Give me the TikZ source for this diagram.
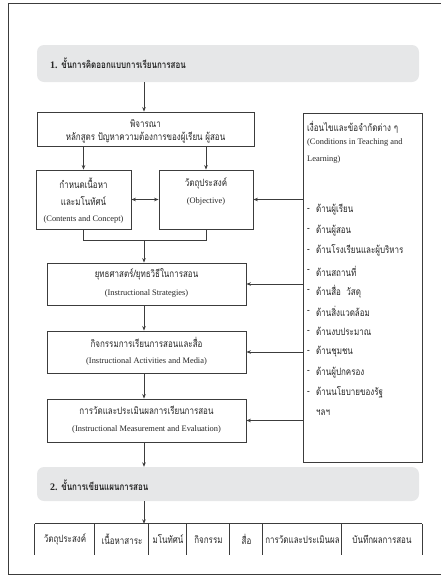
\documentclass[tikz,border=0pt]{standalone}
\usepackage{fontspec}
\setmainfont{Liberation Serif}
\newfontfamily\thaifont[Script=Thai,FakeStretch=0.8]{Loma}
\newfontfamily\enfont{Liberation Serif}
\usetikzlibrary{arrows.meta}
\definecolor{linec}{HTML}{3C3C3C}
\definecolor{textc}{HTML}{262626}
\definecolor{bandc}{HTML}{E6E7E8}
\tikzset{
  frbox/.style={draw=linec, line width=0.9pt, fill=white, inner sep=0pt},
  band/.style={fill=bandc, draw=none, rounded corners=7pt, inner sep=0pt},
  th/.style={font=\thaifont\fontsize{10}{12}\selectfont, text=textc, inner sep=0pt},
  thb/.style={font=\thaifont\bfseries\fontsize{10}{12}\selectfont, text=textc, inner sep=0pt},
  en/.style={font=\enfont\fontsize{8.4}{10}\selectfont, text=textc, inner sep=0pt},
  conn/.style={draw=linec, line width=0.8pt},
  arr/.style={conn, -{Stealth[length=4.5pt,width=3.6pt]}},
  darr/.style={conn, {Stealth[length=4.5pt,width=3.6pt]}-{Stealth[length=4.5pt,width=3.6pt]}},
  cell/.style={inner sep=0pt, minimum height=31pt, text=textc, font=\thaifont\fontsize{10}{12}\selectfont},
}
\begin{document}
\begin{tikzpicture}[x=1pt,y=-1pt]
\useasboundingbox (0,0) rectangle (440,576);
% outer frame
\draw[draw=linec, line width=0.8pt] (460,3) -- (8,3) -- (8,574.5) -- (460,574.5);

% stage 1 band
\node[band, minimum width=382pt, minimum height=37pt] (band1) at (228,63.5) {};
\node[thb, anchor=west] (band1t) at (50,63) {{\enfont\bfseries 1.} ขั้นการคิดออกแบบการเรียนการสอน};

% consider box
\node[frbox, minimum width=217pt, minimum height=34pt] (consider) at (145.5,129) {};
\node[th] (consider1) at (145.5,123.5) {พิจารณา};
\node[th] (consider2) at (145.5,137.5) {หลักสูตร ปัญหาความต้องการของผู้เรียน ผู้สอน};

% content and objective
\node[frbox, minimum width=95pt, minimum height=59pt] (content) at (83.5,199.5) {};
\node[th] (content1) at (83.5,183) {กำหนดเนื้อหา};
\node[th] (content2) at (83.5,201) {และมโนทัศน์};
\node[en] (content3) at (83.5,219) {(Contents and Concept)};

\node[frbox, minimum width=94pt, minimum height=59pt] (objective) at (206,199.5) {};
\node[th] (objective1) at (206,183) {วัตถุประสงค์};
\node[en] (objective2) at (206,201) {(Objective)};

% conditions box
\node[frbox, minimum width=119pt, minimum height=349pt] (cond) at (362.5,287.5) {};
\node[th, anchor=west] (cond1) at (307,127) {เงื่อนไขและข้อจำกัดต่าง ๆ};
\node[en, anchor=west] (cond2) at (307,142.5) {(Conditions in Teaching and};
\node[en, anchor=west] (cond3) at (307,159) {Learning)};
\foreach \t [count=\i from 0] in {ด้านผู้เรียน,ด้านผู้สอน,ด้านโรงเรียนและผู้บริหาร,ด้านสถานที่,ด้านสื่อ\ \ วัสดุ,ด้านสิ่งแวดล้อม,ด้านงบประมาณ,ด้านชุมชน,ด้านผู้ปกครอง,ด้านนโยบายของรัฐ}{
  \node[th, anchor=west] (dash\i) at (307,210+20.3*\i) {-};
  \node[th, anchor=west] (item\i) at (316,210+20.3*\i) {\t};
}
\node[th, anchor=west] (itemetc) at (316,413) {ฯลฯ};

% strategies, activities, evaluation
\node[frbox, minimum width=199pt, minimum height=42pt] (strat) at (146.5,284) {};
\node[th] (strat1) at (146.5,274.5) {ยุทธศาสตร์/ยุทธวิธีในการสอน};
\node[en] (strat2) at (146.5,293.5) {(Instructional Strategies)};

\node[frbox, minimum width=199pt, minimum height=42pt] (act) at (146.5,352) {};
\node[th] (act1) at (146.5,342.5) {กิจกรรมการเรียนการสอนและสื่อ};
\node[en] (act2) at (146.5,361) {(Instructional Activities and Media)};

\node[frbox, minimum width=199pt, minimum height=43pt] (eval) at (146.5,420.5) {};
\node[th] (eval1) at (146.5,410.5) {การวัดและประเมินผลการเรียนการสอน};
\node[en] (eval2) at (146.5,429) {(Instructional Measurement and Evaluation)};

% stage 2 band
\node[band, minimum width=382pt, minimum height=34pt] (band2) at (228,484) {};
\node[thb, anchor=west] (band2t) at (50,485.5) {{\enfont\bfseries 2.} ขั้นการเขียนแผนการสอน};

% table
\node[cell, minimum width=60pt] (t1) at (65,539.5) {วัตถุประสงค์};
\node[cell, minimum width=54pt] (t2) at (122,539.5) {เนื้อหาสาระ};
\node[cell, minimum width=38pt] (t3) at (168,539.5) {มโนทัศน์};
\node[cell, minimum width=43pt] (t4) at (208.5,539.5) {กิจกรรม};
\node[cell, minimum width=33pt] (t5) at (246.5,539.5) {สื่อ};
\node[cell, minimum width=79pt] (t6) at (302.5,539.5) {การวัดและประเมินผล};
\node[cell, minimum width=80pt] (t7) at (382,539.5) {บันทึกผลการสอน};
\draw[conn] (t1.north west) -- (t7.north east);
\foreach \c in {t1,t2,t3,t4,t5,t6,t7}{\draw[conn] (\c.north west) -- (\c.south west);}
\draw[conn] (t7.north east) -- (t7.south east);

% connectors
\coordinate (ax) at (144,0);
\draw[arr] (band1.south -| ax) -- (consider.north -| ax);
\draw[arr] (consider.south -| content) -- (content.north);
\draw[arr] (consider.south -| objective) -- (objective.north);
\draw[darr] (content.east) -- (objective.east -| objective.west);
\draw[arr] (cond.west |- objective) -- (objective.east);
\coordinate (join) at (144,240);
\draw[conn] (content.south) -- (content.south |- join) -- (objective.south |- join) -- (objective.south);
\draw[arr] (join) -- (strat.north -| join);
\draw[arr] (strat.south -| ax) -- (act.north -| ax);
\draw[arr] (act.south -| ax) -- (eval.north -| ax);
\draw[arr] (eval.south -| ax) -- (band2.north -| ax);
\draw[arr] (band2.south -| ax) -- (t2.north -| ax);
\draw[arr] (cond.west |- strat) -- (strat.east);
\draw[arr] (cond.west |- act) -- (act.east);
\draw[arr] (cond.west |- eval) -- (eval.east);
\end{tikzpicture}
\end{document}
